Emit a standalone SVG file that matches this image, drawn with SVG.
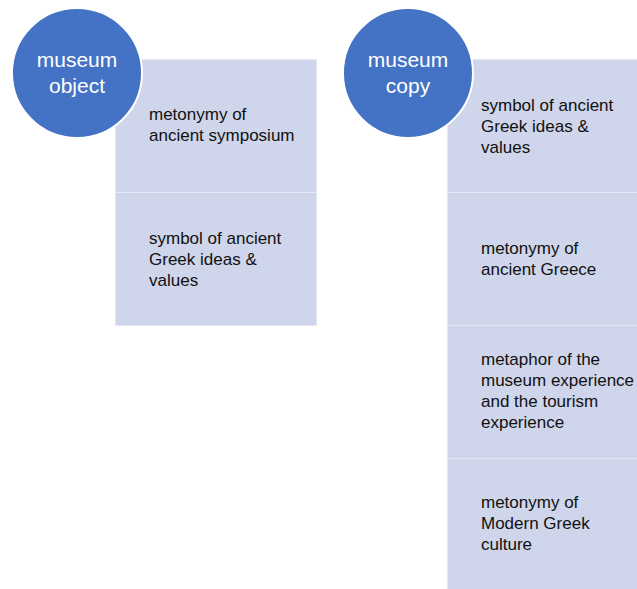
<svg xmlns="http://www.w3.org/2000/svg" width="637" height="589" viewBox="0 0 637 589">
<style>
.seg{fill:#CFD5EA;stroke:#E4E8F3;stroke-width:1}
.circ{fill:#4472C4;stroke:#ffffff;stroke-width:2}
.ct{font-family:"Liberation Sans",Arial,sans-serif;font-size:21px;fill:#ffffff;text-anchor:middle}
.t{font-family:"Liberation Sans",Arial,sans-serif;font-size:17px;fill:#111111}
</style>
<rect width="637" height="589" fill="#ffffff"/>
<g id="obj-seg1"><rect class="seg" x="115.5" y="59.5" width="201" height="133"/>
<text class="t" x="149" y="120">metonymy of</text><text class="t" x="149" y="141">ancient symposium</text></g>
<g id="obj-seg2"><rect class="seg" x="115.5" y="192.5" width="201" height="133"/>
<text class="t" x="149" y="244">symbol of ancient</text><text class="t" x="149" y="265">Greek ideas &amp;</text><text class="t" x="149" y="286">values</text></g>
<g id="museum-object"><circle class="circ" cx="77" cy="73" r="65"/>
<text class="ct" x="77" y="67">museum</text><text class="ct" x="77" y="93">object</text></g>
<g id="copy-seg1"><rect class="seg" x="447.5" y="59.5" width="191" height="133"/>
<text class="t" x="481" y="111">symbol of ancient</text><text class="t" x="481" y="132">Greek ideas &amp;</text><text class="t" x="481" y="153">values</text></g>
<g id="copy-seg2"><rect class="seg" x="447.5" y="192.5" width="191" height="133"/>
<text class="t" x="481" y="254">metonymy of</text><text class="t" x="481" y="275">ancient Greece</text></g>
<g id="copy-seg3"><rect class="seg" x="447.5" y="325.5" width="191" height="133"/>
<text class="t" x="481" y="365">metaphor of the</text><text class="t" x="481" y="386">museum experience</text><text class="t" x="481" y="407">and the tourism</text><text class="t" x="481" y="428">experience</text></g>
<g id="copy-seg4"><rect class="seg" x="447.5" y="458.5" width="191" height="131"/>
<text class="t" x="481" y="508">metonymy of</text><text class="t" x="481" y="529">Modern Greek</text><text class="t" x="481" y="550">culture</text></g>
<g id="museum-copy"><circle class="circ" cx="408" cy="73" r="65"/>
<text class="ct" x="408" y="67">museum</text><text class="ct" x="408" y="93">copy</text></g>
<g id="connectors"></g>
</svg>
